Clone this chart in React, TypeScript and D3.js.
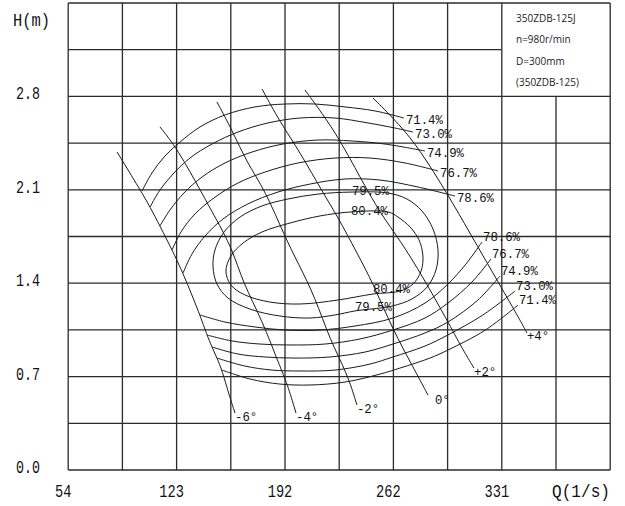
import React from "react";
import * as d3 from "d3";

const W = 625;
const H = 506;

const xTickValues = [54, 123, 192, 261, 330];
const xTickLabels = ["54", "123", "192", "262", "331"];
const yTickValues = [0, 0.7, 1.4, 2.1, 2.8];
const yTickLabels = ["0.0", "0.7", "1.4", "2.1", "2.8"];
const legendLines = ["350ZDB-125J", "n=980r/min", "D=300mm", "(350ZDB-125)"];

// open efficiency contours (upper branch / lower branch), Q in l/s, H in m
const effLevels = ["71.4%", "73.0%", "74.9%", "76.7%", "78.6%"];
const upperQ = [
  [101.0, 107.3, 115.6, 125.2, 137.9, 153.8, 172.9, 192.0, 211.1, 230.2, 249.3, 267.7],
  [106.1, 112.4, 120.7, 131.5, 145.5, 162.1, 181.2, 201.5, 223.8, 244.8, 262.0, 273.5],
  [112.4, 118.8, 127.7, 139.2, 153.8, 171.0, 190.7, 213.0, 234.6, 255.6, 281.1],
  [120.1, 125.8, 134.7, 146.8, 162.1, 179.3, 200.3, 223.8, 246.1, 268.4, 289.4],
  [127.1, 132.8, 141.1, 152.5, 168.4, 187.5, 207.9, 230.2, 252.5, 276.6, 300.2],
];
const upperH = [
  [2.091, 2.226, 2.353, 2.458, 2.571, 2.661, 2.721, 2.743, 2.743, 2.721, 2.691, 2.638],
  [1.971, 2.098, 2.218, 2.338, 2.443, 2.533, 2.601, 2.638, 2.638, 2.601, 2.563, 2.533],
  [1.829, 1.949, 2.076, 2.196, 2.301, 2.383, 2.443, 2.473, 2.466, 2.443, 2.391],
  [1.649, 1.784, 1.919, 2.039, 2.151, 2.233, 2.301, 2.338, 2.338, 2.301, 2.241],
  [1.476, 1.619, 1.754, 1.881, 1.994, 2.083, 2.143, 2.181, 2.173, 2.121, 2.053],
];
const lowerQ = [
  [151.9, 169.7, 188.8, 207.9, 230.2, 252.5, 265.2, 284.3, 295.7, 319.3, 340.3],
  [148.7, 166.5, 183.7, 201.5, 223.8, 246.1, 260.7, 281.1, 295.7, 318.0, 338.4],
  [145.5, 162.1, 179.3, 198.4, 220.6, 242.9, 260.7, 281.1, 295.7, 314.8, 328.8],
  [142.3, 158.3, 176.1, 195.2, 217.5, 239.7, 260.7, 281.1, 295.7, 311.0, 323.1],
  [137.9, 153.8, 172.9, 192.0, 214.3, 236.5, 260.7, 281.1, 295.7, 307.2, 317.4],
];
const lowerH = [
  [0.749, 0.682, 0.644, 0.637, 0.659, 0.719, 0.764, 0.839, 0.899, 1.047, 1.236],
  [0.839, 0.779, 0.749, 0.742, 0.749, 0.794, 0.847, 0.929, 1.012, 1.162, 1.341],
  [0.922, 0.869, 0.847, 0.839, 0.847, 0.884, 0.944, 1.027, 1.109, 1.274, 1.454],
  [1.012, 0.967, 0.944, 0.937, 0.944, 0.982, 1.049, 1.139, 1.251, 1.409, 1.581],
  [1.162, 1.109, 1.072, 1.049, 1.049, 1.079, 1.139, 1.251, 1.394, 1.544, 1.709],
];

// closed efficiency contours
const loopLevels = ["79.5%", "80.4%"];
const loopQ = [
  [234.6, 213.0, 193.9, 177.4, 163.4, 153.2, 147.4, 146.2, 148.7, 155.7, 169.7, 188.8, 207.9, 223.8, 236.5, 260.1, 272.8, 282.4, 288.1, 289.4, 286.2, 279.2, 269.6, 257.6],
  [234.0, 214.3, 195.2, 177.4, 165.3, 157.6, 154.4, 157.6, 166.5, 182.4, 201.5, 225.7, 248.0, 265.2, 273.5, 278.6, 279.8, 277.3, 271.6, 263.9, 257.6],
];
const loopH = [
  [2.083, 2.068, 2.031, 1.979, 1.896, 1.784, 1.649, 1.521, 1.394, 1.289, 1.206, 1.154, 1.139, 1.162, 1.192, 1.229, 1.282, 1.371, 1.499, 1.649, 1.806, 1.941, 2.031, 2.076],
  [1.934, 1.904, 1.851, 1.784, 1.701, 1.604, 1.491, 1.386, 1.312, 1.259, 1.244, 1.274, 1.319, 1.341, 1.394, 1.491, 1.604, 1.724, 1.821, 1.896, 1.934],
];
const loopLabelQ = [[234.6, 236.5], [234.0, 248.0]];
const loopLabelH = [[2.083, 1.214], [1.934, 1.349]];

// blade angle lines
const bladeAngles = ["-6°", "-4°", "-2°", "0°", "+2°", "+4°"];
const bladeQ = [
  [85.1, 100.3, 106.1, 112.4, 120.1, 127.1, 137.9, 142.3, 145.5, 148.7, 151.9, 156.4, 160.2],
  [112.4, 123.2, 139.8, 147.4, 158.3, 165.3, 177.4, 188.8, 193.3, 199.0],
  [148.7, 158.3, 167.8, 179.3, 192.0, 200.3, 211.1, 220.6, 231.5, 237.8],
  [177.4, 188.8, 201.5, 216.2, 225.7, 237.8, 248.0, 260.7, 273.5, 283.0],
  [204.7, 215.5, 227.0, 239.7, 252.5, 265.2, 279.8, 295.1, 305.3, 312.3],
  [248.0, 265.2, 277.9, 295.1, 309.7, 328.8, 341.6, 346.0],
];
const bladeH = [
  [2.383, 2.091, 1.971, 1.829, 1.649, 1.476, 1.162, 1.012, 0.922, 0.839, 0.749, 0.562, 0.427],
  [2.571, 2.413, 2.061, 1.896, 1.664, 1.401, 1.124, 0.772, 0.652, 0.427],
  [2.758, 2.548, 2.301, 2.098, 1.746, 1.551, 1.297, 0.974, 0.727, 0.487],
  [2.855, 2.608, 2.383, 2.076, 1.896, 1.626, 1.401, 1.049, 0.772, 0.562],
  [2.848, 2.676, 2.473, 2.196, 1.926, 1.724, 1.446, 1.124, 0.899, 0.764],
  [2.788, 2.586, 2.398, 2.076, 1.776, 1.386, 1.124, 1.027],
];

const MONO = "'Liberation Mono', 'DejaVu Sans Mono', monospace";
const SANS = "'Open Sans', 'DejaVu Sans', sans-serif";

export default function App() {
  const x = d3.scaleLinear().domain([54, 399]).range([68.2, 610.2]);
  const y = d3.scaleLinear().domain([0, 3.5]).range([470, 3]);

  const zip = (qs: number[], hs: number[]) => qs.map((q, i) => [q, hs[i]] as [number, number]);
  const smooth = d3
    .line<[number, number]>()
    .x((d) => x(d[0]))
    .y((d) => y(d[1]))
    .curve(d3.curveCatmullRom.alpha(0.5));
  const closed = d3
    .line<[number, number]>()
    .x((d) => x(d[0]))
    .y((d) => y(d[1]))
    .curve(d3.curveCatmullRomClosed.alpha(0.5));
  const blade = d3
    .line<[number, number]>()
    .x((d) => x(d[0]))
    .y((d) => y(d[1]))
    .curve(d3.curveBasis);

  const gridQ = d3.range(11).map((i) => 54 + 34.5 * i);
  const gridH = d3.range(11).map((j) => 0.35 * j);

  const gridColor = "#2b2b2b";
  const curveColor = "#1a1a1a";
  const charW = 8.2;

  return (
    <svg
      width={W}
      height={H}
      style={{ position: "absolute", left: 0, top: 0, background: "#fff" }}
    >
      <rect x={0} y={0} width={W} height={H} fill="#fff" />
      {/* grid */}
      <g stroke={gridColor} strokeWidth={1.3}>
        {gridQ.map((q, i) => (
          <line
            key={"v" + i}
            x1={x(q)}
            x2={x(q)}
            y1={y(0)}
            y2={i === 9 ? y(2.8) : y(3.5)}
          />
        ))}
        {gridH.map((h, j) => (
          <line
            key={"h" + j}
            x1={x(54)}
            x2={j === 9 ? x(330) : x(399)}
            y1={y(h)}
            y2={y(h)}
          />
        ))}
      </g>

      {/* blade angle lines */}
      <g fill="none" stroke={curveColor} strokeWidth={1}>
        {bladeQ.map((qs, i) => (
          <path key={"b" + i} d={blade(zip(qs, bladeH[i])) || ""} />
        ))}
      </g>

      {/* efficiency contours */}
      <g fill="none" stroke={curveColor} strokeWidth={1}>
        {upperQ.map((qs, i) => (
          <path key={"u" + i} d={smooth(zip(qs, upperH[i])) || ""} />
        ))}
        {lowerQ.map((qs, i) => (
          <path key={"l" + i} d={smooth(zip(qs, lowerH[i])) || ""} />
        ))}
        {loopQ.map((qs, i) => (
          <path key={"c" + i} d={closed(zip(qs, loopH[i])) || ""} />
        ))}
      </g>

      {/* contour labels */}
      <g fontFamily={MONO} fontSize={12} fill="#111">
        {effLevels.map((lab, i) => {
          const n = upperQ[i].length - 1;
          const m = lowerQ[i].length - 1;
          return (
            <g key={"el" + i}>
              <text
                x={x(upperQ[i][n]) + 2}
                y={y(upperH[i][n]) + 3}
                dominantBaseline="central"
                textLength={37}
                lengthAdjust="spacingAndGlyphs"
              >
                {lab}
              </text>
              <text
                x={x(lowerQ[i][m]) + 1}
                y={y(lowerH[i][m]) - 4}
                dominantBaseline="central"
                textLength={37}
                lengthAdjust="spacingAndGlyphs"
              >
                {lab}
              </text>
            </g>
          );
        })}
        {loopLevels.map((lab, i) =>
          loopLabelQ[i].map((q, k) => (
            <text
              key={"ll" + i + k}
              x={x(q)}
              y={y(loopLabelH[i][k])}
              dominantBaseline="central"
              textLength={37}
              lengthAdjust="spacingAndGlyphs"
            >
              {lab}
            </text>
          ))
        )}
        {bladeAngles.map((lab, i) => {
          const n = bladeQ[i].length - 1;
          const isZero = lab === "0°";
          return (
            <text
              key={"bl" + i}
              x={x(bladeQ[i][n]) + (isZero ? 7 : 0)}
              y={y(bladeH[i][n]) + (isZero ? 5 : 4)}
              dominantBaseline="central"
              fontSize={13}
              textLength={lab.length * 7.4}
              lengthAdjust="spacingAndGlyphs"
            >
              {lab}
            </text>
          );
        })}
      </g>

      {/* axes labels */}
      <g fontFamily={MONO} fontSize={18} fill="#111">
        {yTickValues.map((v, i) => (
          <text
            key={"yt" + i}
            x={16}
            y={y(v) - 2}
            dominantBaseline="central"
            textLength={24}
            lengthAdjust="spacingAndGlyphs"
          >
            {yTickLabels[i]}
          </text>
        ))}
        <text x={13} y={21} dominantBaseline="central" textLength={37} lengthAdjust="spacingAndGlyphs">
          H(m)
        </text>
        {xTickValues.map((v, i) => (
          <text
            key={"xt" + i}
            x={x(v) - 5}
            y={492}
            textAnchor="middle"
            dominantBaseline="central"
            textLength={xTickLabels[i].length * charW}
            lengthAdjust="spacingAndGlyphs"
          >
            {xTickLabels[i]}
          </text>
        ))}
        <text x={552} y={492} dominantBaseline="central" textLength={58} lengthAdjust="spacingAndGlyphs">
          Q(1/s)
        </text>
      </g>

      {/* legend */}
      <g fontFamily={SANS} fontSize={10} fill="#222">
        {legendLines.map((t, i) => (
          <text key={"lg" + i} x={516} y={18 + i * 21.3} dominantBaseline="central">
            {t}
          </text>
        ))}
      </g>
    </svg>
  );
}
